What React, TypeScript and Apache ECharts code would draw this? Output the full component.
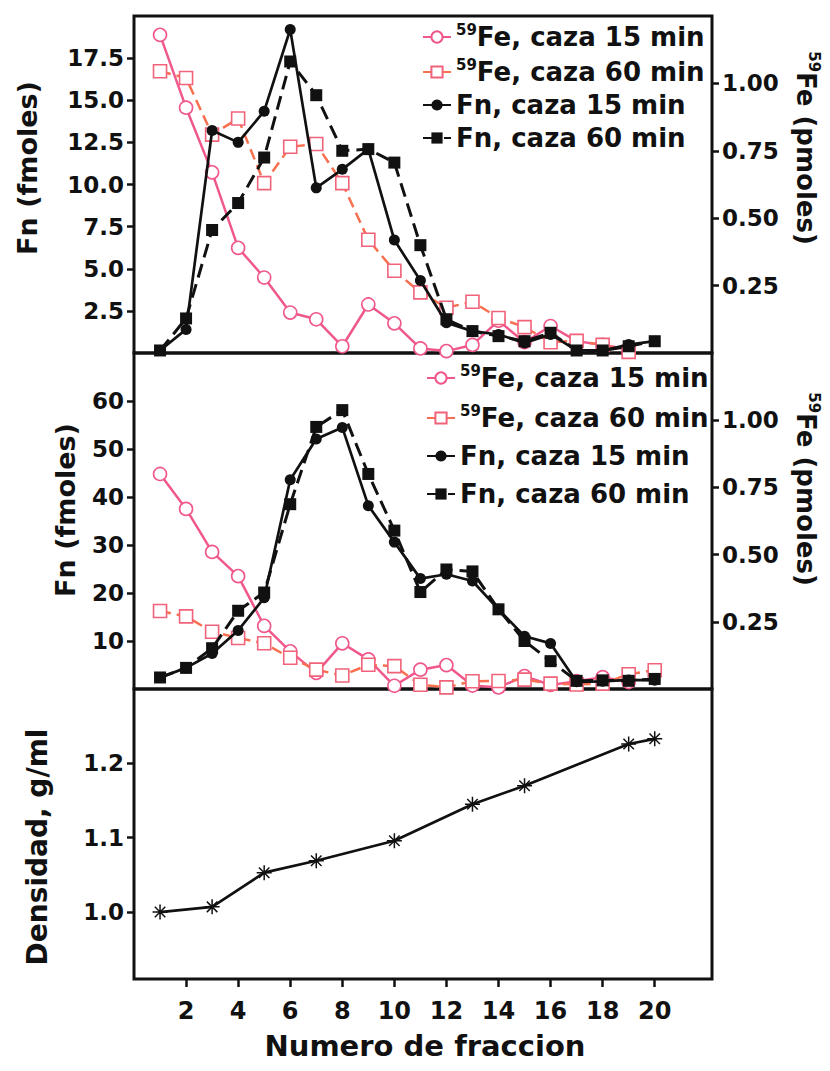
import React, { useEffect, useRef } from 'react';
import * as echarts from 'echarts';

// ---- data ----
const fractions = [1, 2, 3, 4, 5, 6, 7, 8, 9, 10, 11, 12, 13, 14, 15, 16, 17, 18, 19, 20];

// Panel 1 (top)
const fn15Top = [0.15, 1.4, 13.2, 12.5, 14.35, 19.2, 9.8, 10.9, 12.1, 6.7, 4.3, 1.8, 1.3, 1.1, 0.6, 1.1, 0.15, 0.15, 0.5, 0.7];
const fn60Top = [0.15, 2.05, 7.3, 8.9, 11.6, 17.3, 15.3, 12.0, 12.1, 11.3, 6.4, 2.0, 1.3, 1.0, 0.7, 1.2, 0.15, 0.15, 0.4, 0.7];
const fe15Top = [1.18, 0.91, 0.67, 0.39, 0.28, 0.15, 0.125, 0.025, 0.18, 0.11, 0.017, 0.007, 0.03, 0.12, 0.04, 0.10, 0.044, 0.03, 0.014];
const fe60Top = [1.045, 1.02, 0.81, 0.87, 0.63, 0.765, 0.775, 0.63, 0.42, 0.305, 0.225, 0.168, 0.19, 0.13, 0.096, 0.04, 0.045, 0.03, 0.004];

// Panel 2 (middle)
const fn15Mid = [2.4, 4.4, 7.4, 12.2, 19.0, 43.6, 52.1, 54.5, 38.2, 30.6, 23.0, 23.9, 22.5, 16.6, 11.0, 9.5, 1.5, 1.6, 1.9, 1.8];
const fn60Mid = [2.4, 4.4, 8.5, 16.3, 20.1, 38.5, 54.6, 58.1, 44.8, 33.0, 20.2, 24.9, 24.5, 16.6, 10.0, 5.8, 1.7, 1.8, 1.7, 2.1];
const fe15Mid = [0.80, 0.67, 0.51, 0.42, 0.235, 0.14, 0.06, 0.17, 0.11, 0.012, 0.072, 0.089, 0.013, 0.006, 0.048, 0.015, 0.029, 0.044, 0.026];
const fe60Mid = [0.29, 0.27, 0.213, 0.19, 0.17, 0.116, 0.072, 0.05, 0.09, 0.085, 0.016, 0.006, 0.029, 0.03, 0.035, 0.02, 0.017, 0.02, 0.055, 0.07];

// Panel 3 (density)
const densFractions = [1, 3, 5, 7, 10, 13, 15, 19, 20];
const density = [1.0, 1.007, 1.053, 1.069, 1.096, 1.145, 1.17, 1.226, 1.233];

// tick labels
const xTicks = [2, 4, 6, 8, 10, 12, 14, 16, 18, 20];
const fnTopTicks = [2.5, 5, 7.5, 10, 12.5, 15, 17.5];
const fnMidTicks = [10, 20, 30, 40, 50, 60];
const feTicks = [0.25, 0.5, 0.75, 1.0];
const densTicks = [1.0, 1.1, 1.2];

const NAME_FE15 = '59Fe, caza 15 min';
const NAME_FE60 = '59Fe, caza 60 min';
const NAME_FN15 = 'Fn, caza 15 min';
const NAME_FN60 = 'Fn, caza 60 min';

const FONT = 'DejaVu Sans';
const INK = '#111111';
const PINK = '#f0588c';
const SALMON = '#f8704f';
const SQ_PINK = '#f0637a';

const ASTERISK =
  'path://M-10,-1L10,-1L10,1L-10,1Z M-1,-10L1,-10L1,10L-1,10Z M-6.3,-7.7L7.7,6.3L6.3,7.7L-7.7,-6.3Z M6.3,-7.7L7.7,-6.3L-6.3,7.7L-7.7,6.3Z';

function pairs(xs: number[], ys: number[]) {
  return ys.map((y, i) => [xs[i], y]);
}

const tickLine = { show: true, length: 7, lineStyle: { color: INK, width: 2.5 } };
const labelBase = { color: INK, fontFamily: FONT, fontWeight: 'bold' as const, fontSize: 23 };

function feSeries(name: string, data: number[], xi: number, yi: number, dashed: boolean) {
  return {
    type: 'line',
    name,
    xAxisIndex: xi,
    yAxisIndex: yi,
    data: pairs(fractions, data),
    symbol: dashed ? 'rect' : 'circle',
    symbolSize: 13,
    lineStyle: { color: dashed ? SALMON : PINK, width: 2.5, type: dashed ? [11, 6] : 'solid' },
    itemStyle: { color: '#ffffff', borderColor: dashed ? SQ_PINK : PINK, borderWidth: 1.6 },
    z: 2,
  };
}

function fnSeries(name: string, data: number[], xi: number, yi: number, dashed: boolean) {
  return {
    type: 'line',
    name,
    xAxisIndex: xi,
    yAxisIndex: yi,
    data: pairs(fractions, data),
    symbol: dashed ? 'rect' : 'circle',
    symbolSize: dashed ? 12 : 11,
    lineStyle: { color: INK, width: dashed ? 3 : 2.7, type: dashed ? [14, 7] : 'solid' },
    itemStyle: { color: INK },
    z: 3,
  };
}

const legendRich = {
  s: { fontSize: 15, fontWeight: 'bold', fontFamily: FONT, color: INK, verticalAlign: 'top', lineHeight: 16 },
  t: { fontSize: 26, fontWeight: 'bold', fontFamily: FONT, color: INK, lineHeight: 30 },
};

function legendFormatter(name: string) {
  return name.startsWith('59') ? `{s|59}{t|${name.slice(2)}}` : `{t|${name}}`;
}

function makeLegend(left: number, top: number, gap: number) {
  return {
    orient: 'vertical',
    left,
    top,
    itemWidth: 28,
    itemHeight: 14,
    itemGap: gap,
    selectedMode: false,
    data: [NAME_FE15, NAME_FE60, NAME_FN15, NAME_FN60],
    formatter: legendFormatter,
    textStyle: { color: INK, fontFamily: FONT, fontWeight: 'bold', fontSize: 26, rich: legendRich },
  };
}

function titleText(text: string, x: number, y: number, rotation: number, size: number) {
  return {
    type: 'text',
    x,
    y,
    rotation,
    style: {
      text,
      fill: INK,
      fontFamily: FONT,
      fontWeight: 'bold',
      fontSize: size,
      align: 'center',
      verticalAlign: 'middle',
      rich: {
        s: { fontSize: 15, fontWeight: 'bold', fontFamily: FONT, fill: INK, verticalAlign: 'top', lineHeight: 16 },
        t: { fontSize: size, fontWeight: 'bold', fontFamily: FONT, fill: INK, lineHeight: size + 4 },
      },
    },
  };
}

export default function App() {
  const ref = useRef<HTMLDivElement>(null);

  useEffect(() => {
    if (!ref.current) return;
    const chart = echarts.init(ref.current, undefined, { renderer: 'svg' });

    const gridBase = { left: 134, width: 578, show: true, borderColor: INK, borderWidth: 3, backgroundColor: 'transparent' };

    const hiddenX = (gi: number) => ({
      type: 'value',
      gridIndex: gi,
      min: 0,
      max: 22.2,
      axisLine: { show: false },
      axisTick: { show: false },
      axisLabel: { show: false },
      splitLine: { show: false },
    });

    const yAx = (gi: number, pos: 'left' | 'right', min: number, max: number, interval: number | undefined, ticks: number[], dec: number, margin: number) => ({
      type: 'value',
      gridIndex: gi,
      position: pos,
      min,
      max,
      ...(interval !== undefined ? { interval } : {}),
      axisLine: { show: false },
      axisTick: { ...tickLine, customValues: ticks },
      axisLabel: { ...labelBase, margin, customValues: ticks, formatter: (v: number) => v.toFixed(dec) },
      splitLine: { show: false },
    });

    const option = {
      animation: false,
      backgroundColor: '#ffffff',
      grid: [
        { ...gridBase, top: 16, height: 337 },
        { ...gridBase, top: 353, height: 336 },
        { ...gridBase, top: 689, height: 290 },
      ],
      xAxis: [
        hiddenX(0),
        hiddenX(1),
        {
          type: 'value',
          gridIndex: 2,
          min: 0,
          max: 22.2,
          axisLine: { show: false },
          axisTick: { ...tickLine, length: 8, customValues: xTicks },
          axisLabel: { ...labelBase, fontSize: 24, margin: 20, customValues: xTicks, formatter: (v: number) => String(v) },
          splitLine: { show: false },
        },
      ],
      yAxis: [
        yAx(0, 'left', 0, 20, 2.5, fnTopTicks, 1, 10),
        yAx(0, 'right', 0, 1.25, 0.25, feTicks, 2, 10),
        yAx(1, 'left', 0, 70, 10, fnMidTicks, 0, 10),
        yAx(1, 'right', 0, 1.25, 0.25, feTicks, 2, 10),
        yAx(2, 'left', 0.91, 1.3, undefined, densTicks, 1, 10),
      ],
      legend: [makeLegend(417, 17, 7), makeLegend(421, 358, 12)],
      series: [
        feSeries(NAME_FE15, fe15Top, 0, 1, false),
        feSeries(NAME_FE60, fe60Top, 0, 1, true),
        fnSeries(NAME_FN15, fn15Top, 0, 0, false),
        fnSeries(NAME_FN60, fn60Top, 0, 0, true),
        feSeries(NAME_FE15, fe15Mid, 1, 3, false),
        feSeries(NAME_FE60, fe60Mid, 1, 3, true),
        fnSeries(NAME_FN15, fn15Mid, 1, 2, false),
        fnSeries(NAME_FN60, fn60Mid, 1, 2, true),
        {
          type: 'line',
          name: 'Densidad',
          xAxisIndex: 2,
          yAxisIndex: 4,
          data: pairs(densFractions, density),
          symbol: ASTERISK,
          symbolSize: 15,
          lineStyle: { color: INK, width: 2.7 },
          itemStyle: { color: INK },
        },
      ],
      graphic: [
        titleText('{t|Fn (fmoles)}', 27, 168, Math.PI / 2, 27),
        titleText('{s|59}{t|Fe (pmoles)}', 806, 148, -Math.PI / 2, 26),
        titleText('{t|Fn (fmoles)}', 65, 510, Math.PI / 2, 27),
        titleText('{s|59}{t|Fe (pmoles)}', 806, 489, -Math.PI / 2, 26),
        titleText('{t|Densidad, g/ml}', 37, 847, Math.PI / 2, 28),
        titleText('{t|Numero de fraccion}', 425, 1046, 0, 29),
      ],
    };

    chart.setOption(option as any);
    return () => chart.dispose();
  }, []);

  return (
    <div
      ref={ref}
      style={{ position: 'fixed', left: 0, top: 0, width: 830, height: 1071, background: '#fff' }}
    />
  );
}
